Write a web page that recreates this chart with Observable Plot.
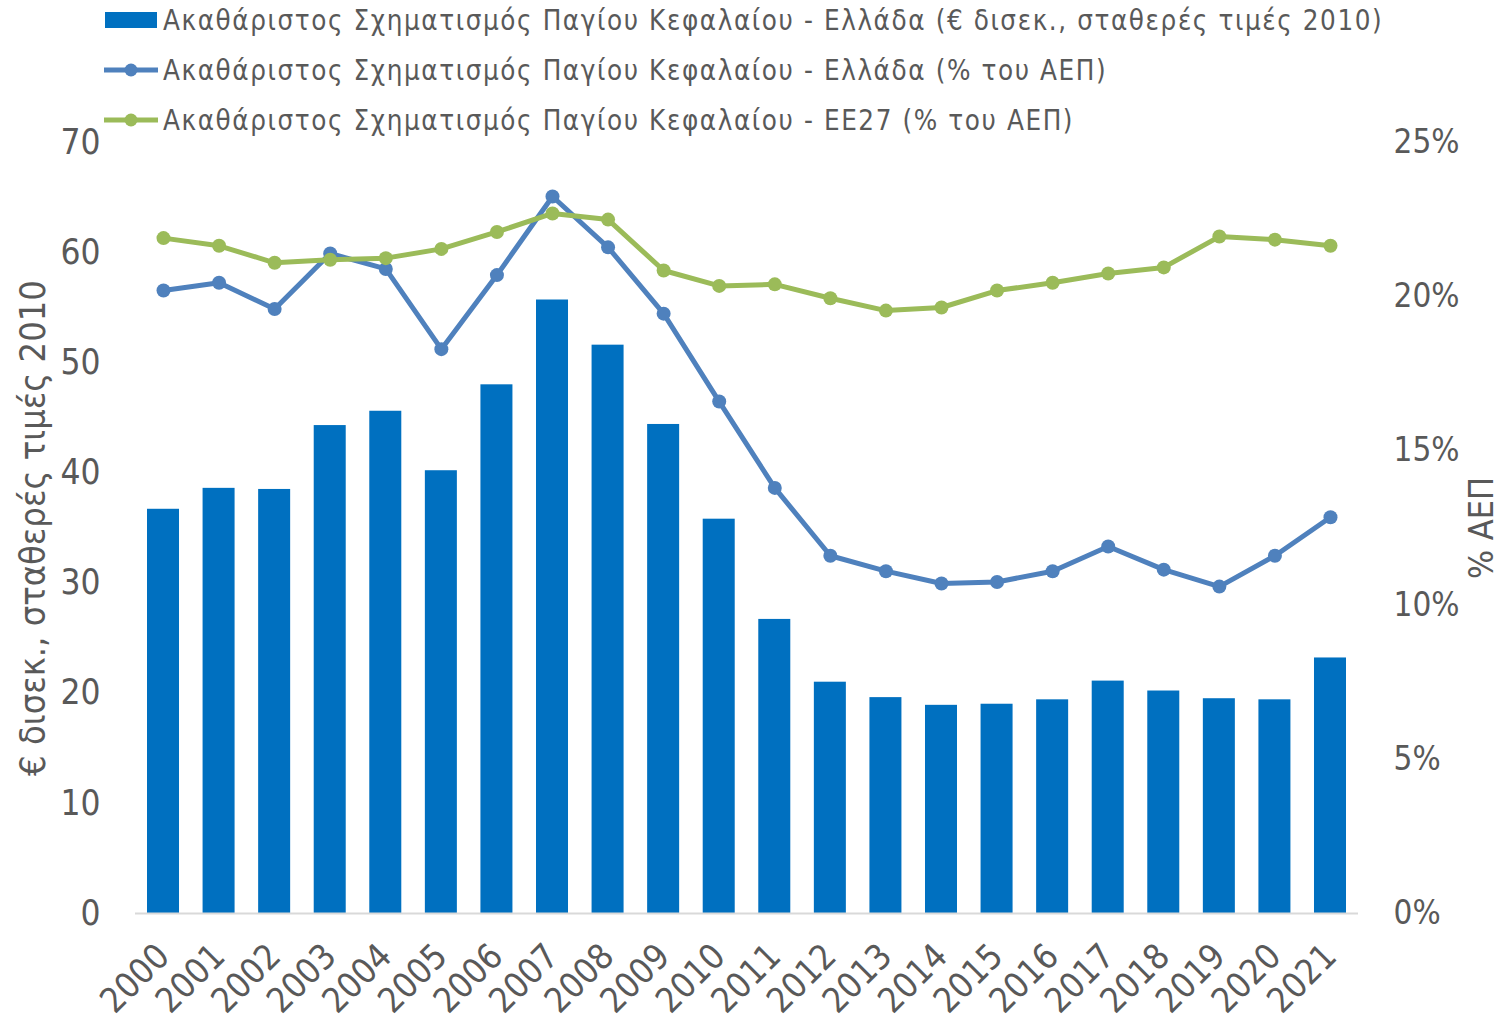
<!DOCTYPE html>
<html>
<head>
<meta charset="utf-8">
<script src="https://cdn.jsdelivr.net/npm/d3@7"></script>
<script src="https://cdn.jsdelivr.net/npm/@observablehq/plot@0.6"></script>
<style>
  html, body { margin: 0; padding: 0; background: #fff; }
  #wrap { position: relative; width: 1502px; height: 1020px; overflow: hidden; }
  #legend { position: relative; width: 1502px; height: 128px; font-family: "DejaVu Sans Condensed", "DejaVu Sans", sans-serif; color: #595959; }
  .row { position: absolute; left: 103px; height: 40px; display: flex; align-items: center; }
  .row .lbl { font-size: 27.5px; letter-spacing: 1.6px; margin-left: 4px; white-space: nowrap; }
  #chart svg { overflow: visible; }
</style>
</head>
<body>
<div id="wrap">
  <div id="legend"></div>
  <div id="chart"></div>
</div>
<script>
const years = ["2000","2001","2002","2003","2004","2005","2006","2007","2008","2009","2010",
               "2011","2012","2013","2014","2015","2016","2017","2018","2019","2020","2021"];
// Ακαθάριστος Σχηματισμός Παγίου Κεφαλαίου - Ελλάδα (€ δισεκ., σταθερές τιμές 2010)
const investment = [36.7, 38.6, 38.5, 44.3, 45.6, 40.2, 48.0, 55.7, 51.6, 44.4, 35.8,
                    26.7, 21.0, 19.6, 18.9, 19.0, 19.4, 21.1, 20.2, 19.5, 19.4, 23.2];
// Ακαθάριστος Σχηματισμός Παγίου Κεφαλαίου - Ελλάδα (% του ΑΕΠ)
const greecePct = [20.2, 20.45, 19.6, 21.4, 20.9, 18.3, 20.7, 23.25, 21.6, 19.45, 16.6,
                   13.8, 11.6, 11.1, 10.7, 10.75, 11.1, 11.9, 11.15, 10.6, 11.6, 12.85];
// Ακαθάριστος Σχηματισμός Παγίου Κεφαλαίου - ΕΕ27 (% του ΑΕΠ)
const eu27Pct = [21.9, 21.65, 21.1, 21.2, 21.25, 21.55, 22.1, 22.7, 22.5, 20.85, 20.35,
                 20.4, 19.95, 19.55, 19.65, 20.2, 20.45, 20.75, 20.95, 21.95, 21.85, 21.65];

const leftTicks = [0, 10, 20, 30, 40, 50, 60, 70];
const rightTicks = [0, 5, 10, 15, 20, 25];

const seriesNames = [
  "Ακαθάριστος Σχηματισμός Παγίου Κεφαλαίου - Ελλάδα (€ δισεκ., σταθερές τιμές 2010)",
  "Ακαθάριστος Σχηματισμός Παγίου Κεφαλαίου - Ελλάδα (% του ΑΕΠ)",
  "Ακαθάριστος Σχηματισμός Παγίου Κεφαλαίου - ΕΕ27 (% του ΑΕΠ)"
];
const leftTitle = "€ δισεκ., σταθερές τιμές 2010";
const rightTitle = "% ΑΕΠ";

const barColor = "#0070C0", grColor = "#4F81BD", euColor = "#9BBB59", textColor = "#595959";

const data = years.map((year, i) => ({year, investment: investment[i], greece: greecePct[i], eu: eu27Pct[i]}));

// legend
const legend = document.getElementById("legend");
const rowCenters = [20, 70, 120];
seriesNames.forEach((name, i) => {
  const row = document.createElement("div");
  row.className = "row";
  row.style.top = (rowCenters[i] - 20) + "px";
  let sw;
  if (i === 0) {
    sw = `<svg width="56" height="40"><rect x="2" y="12" width="52" height="16" fill="${barColor}"/></svg>`;
  } else {
    const c = i === 1 ? grColor : euColor;
    sw = `<svg width="56" height="40"><line x1="1" x2="55" y1="20" y2="20" stroke="${c}" stroke-width="5"/><circle cx="28" cy="20" r="6.5" fill="${c}"/></svg>`;
  }
  row.innerHTML = sw + `<span class="lbl">${name}</span>`;
  legend.appendChild(row);
});

const k = 70 / 25; // right axis (%) mapped onto left scale
const font = "'DejaVu Sans Condensed', 'DejaVu Sans', sans-serif";

const chart = Plot.plot({
  width: 1502,
  height: 892,
  marginTop: 14,
  marginBottom: 107,
  marginLeft: 135,
  marginRight: 144,
  style: {fontFamily: font, color: textColor, background: "white", overflow: "visible"},
  x: {type: "band", domain: years, paddingInner: 0.424, paddingOuter: 0.216, round: false},
  y: {domain: [0, 70]},
  marks: [
    Plot.barY(data, {x: "year", y: "investment", fill: barColor}),
    Plot.ruleY([0], {stroke: "#D9D9D9", strokeWidth: 2}),
    Plot.lineY(data, {x: "year", y: d => d.greece * k, stroke: grColor, strokeWidth: 5}),
    Plot.dot(data, {x: "year", y: d => d.greece * k, fill: grColor, r: 7}),
    Plot.lineY(data, {x: "year", y: d => d.eu * k, stroke: euColor, strokeWidth: 5}),
    Plot.dot(data, {x: "year", y: d => d.eu * k, fill: euColor, r: 7}),
    Plot.axisY(leftTicks, {anchor: "left", tickSize: 0, tickPadding: 35, fontSize: 35, label: null, fill: textColor}),
    Plot.axisY(rightTicks.map(v => v * k), {anchor: "right", tickSize: 0, tickPadding: 35, fontSize: 33, label: null, fill: textColor,
      tickFormat: d => Math.round(d / k) + "%"}),
    Plot.axisX({tickRotate: -45, tickSize: 0, tickPadding: 37, fontSize: 35, label: null, fill: textColor}),
    Plot.text([leftTitle], {frameAnchor: "left", dx: -102, rotate: -90, textAnchor: "middle", lineAnchor: "middle", fontSize: 36, fill: textColor}),
    Plot.text([rightTitle], {frameAnchor: "right", dx: 124, rotate: -90, textAnchor: "middle", lineAnchor: "middle", fontSize: 34, fill: textColor})
  ]
});
document.getElementById("chart").appendChild(chart);
</script>
</body>
</html>
